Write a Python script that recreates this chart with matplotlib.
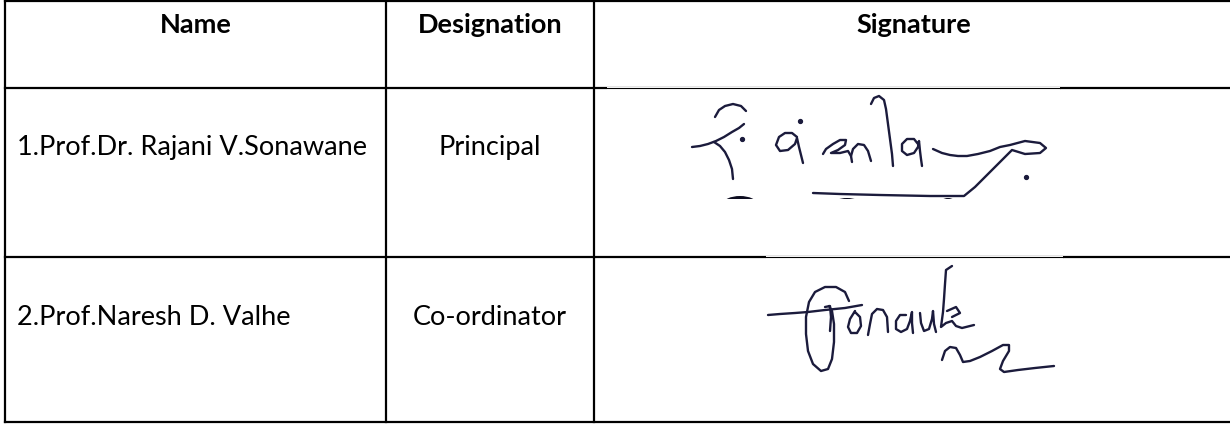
import matplotlib
matplotlib.use("Agg")
import matplotlib.pyplot as plt
from matplotlib.patches import Rectangle, Ellipse

# ---------------- data ----------------
headers = ["Name", "Designation", "Signature"]
names = ["1.Prof.Dr. Rajani V.Sonawane", "2.Prof.Naresh D. Valhe"]
designations = ["Principal", "Co-ordinator"]

# signature pen strokes (pixel space of the scanned signature images)
sig1_strokes = [
    [(715, 118), (719, 111), (725, 107), (733, 105), (741, 107), (746, 112)],
    [(692, 148), (700, 147), (708, 145), (716, 142), (724, 138), (732, 133), (739, 129), (744, 125)],
    [(714, 143), (720, 147), (725, 153), (729, 161), (732, 170), (733, 180)],
    [(797, 138), (792, 134), (785, 134), (779, 138), (776, 146), (780, 152), (788, 151), (795, 145),
     (797, 139), (799, 148), (801, 156), (803, 164)],
    [(823, 155), (826, 150), (833, 145), (840, 141), (846, 141), (845, 146), (838, 151), (831, 154),
     (840, 154), (848, 152), (851, 157), (852, 163)],
    [(851, 157), (853, 150), (858, 145), (864, 146), (868, 152), (871, 162)],
    [(871, 105), (874, 99), (879, 97), (884, 101), (886, 110), (888, 125), (890, 140), (892, 155), (893, 167)],
    [(918, 145), (914, 140), (907, 140), (902, 145), (902, 152), (907, 156), (914, 154), (918, 148),
     (919, 142), (920, 152), (921, 160), (922, 167)],
    [(933, 150), (942, 154), (950, 156), (958, 157), (967, 157), (978, 155), (990, 152), (1000, 148),
     (1010, 146), (1025, 142), (1040, 144), (1046, 149), (1040, 154), (1025, 155), (1012, 151),
     (1005, 158), (995, 168), (985, 178), (975, 188), (964, 197), (930, 197), (880, 196), (840, 195),
     (813, 194)],
]
sig1_dots = [(742, 140), (800, 122), (1026, 178)]
sig1_stamp = [(740, 205, 34, 16), (847, 206, 30, 14), (888, 207, 24, 12), (948, 206, 18, 14)]

sig2_strokes = [
    [(768, 316), (780, 315), (795, 314), (808, 313), (825, 311), (845, 309), (862, 306)],
    [(849, 302), (845, 293), (836, 288), (825, 288), (815, 293), (809, 303), (806, 318), (806, 335),
     (808, 352), (813, 365), (821, 372), (828, 370), (832, 360), (834, 343), (834, 325), (832, 312),
     (829, 307)],
    [(825, 308), (830, 307), (831, 318), (830, 332)],
    [(855, 312), (850, 320), (848, 328), (851, 334), (857, 334), (861, 327), (860, 318), (855, 313)],
    [(868, 336), (870, 325), (872, 315), (877, 310), (883, 311), (887, 318), (888, 333)],
    [(906, 316), (900, 316), (896, 322), (896, 330), (901, 333), (907, 330), (910, 322), (912, 313),
     (912, 324), (913, 334)],
    [(920, 314), (921, 324), (924, 332), (929, 330), (932, 320), (933, 312), (934, 325), (936, 333)],
    [(952, 267), (946, 271), (945, 285), (944, 300), (943, 313), (941, 328), (946, 324), (952, 322),
     (956, 327), (962, 329), (974, 326)],
    [(947, 312), (956, 308), (960, 314), (952, 318)],
    [(942, 361), (945, 352), (950, 348), (956, 349), (960, 356), (963, 363), (970, 362), (980, 358),
     (992, 352), (1003, 346), (1009, 346), (1009, 352), (1003, 362), (1000, 370), (1004, 373),
     (1018, 371), (1035, 369), (1054, 367)],
]

# ---------------- layout ----------------
W, H = 1230, 427
col_edges = [5, 386, 594, 1233]
row_edges = [2, 89, 258, 423]
header_baseline = 33
row_baselines = [155, 325]
name_x = 17
sig_boxes = [(607, 1060, 89, 200), (766, 1063, 258, 410)]

plt.rcParams['font.family'] = ['Lato', 'DejaVu Sans']
fs = 19.5
ink = "#1b1b3c"

fig = plt.figure(figsize=(W / 100, H / 100), dpi=100)
ax = fig.add_axes([0, 0, 1, 1])
ax.set_xlim(0, W)
ax.set_ylim(H, 0)
ax.axis('off')

# table grid
for y in row_edges:
    ax.plot([col_edges[0], col_edges[-1]], [y, y], color='black', lw=1.6,
            solid_capstyle='projecting', zorder=3)
for x in col_edges:
    ax.plot([x, x], [row_edges[0], row_edges[-1]], color='black', lw=1.6,
            solid_capstyle='projecting', zorder=3)

# signature image boxes (cover thick rule, leave thin scan edge)
for (x0, x1, y0, y1) in sig_boxes:
    ax.add_patch(Rectangle((x0, y0 - 1.2), x1 - x0, 3.0, facecolor='white',
                           edgecolor='none', zorder=4))
    ax.plot([x0, x1], [y0 - 0.3, y0 - 0.3], color='black', lw=0.8, zorder=5)

# header text
centers = [(col_edges[i] + col_edges[i + 1]) / 2 for i in range(3)]
for c, h in zip(centers, headers):
    ax.text(c, header_baseline, h, ha='center', va='baseline', fontsize=fs,
            fontweight='bold', color='black')

for yb, n, d in zip(row_baselines, names, designations):
    ax.text(name_x, yb, n, ha='left', va='baseline', fontsize=fs, color='black')
    ax.text(centers[1], yb, d, ha='center', va='baseline', fontsize=fs, color='black')

# signatures
for strokes in (sig1_strokes, sig2_strokes):
    for s in strokes:
        xs = [p[0] for p in s]
        ys = [p[1] for p in s]
        ax.plot(xs, ys, color=ink, lw=1.7, solid_joinstyle='round',
                solid_capstyle='round', zorder=6)
for (x, y) in sig1_dots:
    ax.plot([x], [y], 'o', ms=2.8, color=ink, zorder=6)

clip = Rectangle((sig_boxes[0][0], sig_boxes[0][2]), sig_boxes[0][1] - sig_boxes[0][0],
                 sig_boxes[0][3] - sig_boxes[0][2], transform=ax.transData)
for (cx, cy, w, h) in sig1_stamp:
    e = Ellipse((cx, cy), w, h, facecolor='#0d0d20', edgecolor='none', zorder=6)
    ax.add_patch(e)
    e.set_clip_path(clip)

fig.savefig("out.png", dpi=100)
